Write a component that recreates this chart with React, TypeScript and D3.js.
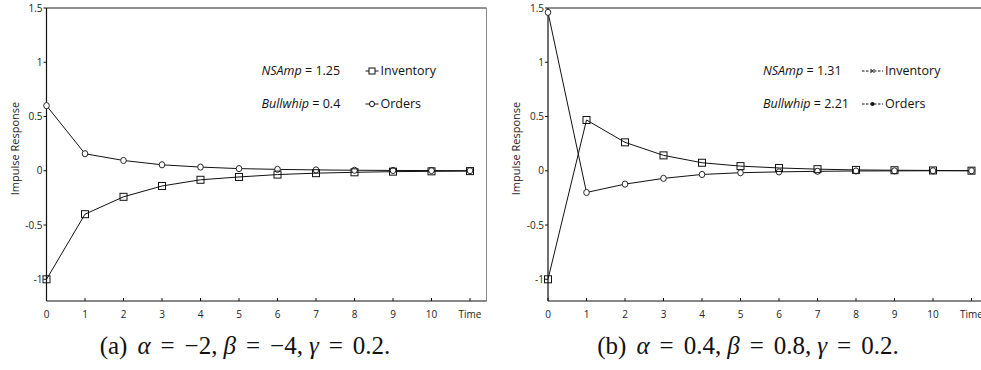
import React from "react";
import * as d3 from "d3";

const steps = [0, 1, 2, 3, 4, 5, 6, 7, 8, 9, 10, 11];
const xTickLabels = ["0", "1", "2", "3", "4", "5", "6", "7", "8", "9", "10", "Time"];
const yTicks = [-1, -0.5, 0, 0.5, 1, 1.5];

// panel (a)
const invA = [-1, -0.4, -0.24, -0.14, -0.083, -0.057, -0.035, -0.022, -0.014, -0.008, -0.005, -0.003];
const ordA = [0.6, 0.157, 0.095, 0.055, 0.034, 0.02, 0.013, 0.008, 0.005, 0.003, 0.002, 0.001];
// panel (b)
const invB = [-1, 0.468, 0.262, 0.142, 0.074, 0.043, 0.026, 0.015, 0.008, 0.005, 0.003, 0.001];
const ordB = [1.46, -0.2, -0.123, -0.07, -0.034, -0.018, -0.01, -0.005, -0.002, -0.001, 0, 0];

// caption pieces: [text, italic, gap before]
const captionA: [string, boolean, number][] = [
  ["(a)", false, 0], ["α", true, 10], ["=", false, 10], ["−2,", false, 10],
  ["β", true, 6], ["=", false, 10], ["−4,", false, 10], ["γ", true, 6], ["=", false, 10], ["0.2.", false, 10],
];
const captionB: [string, boolean, number][] = [
  ["(b)", false, 0], ["α", true, 10], ["=", false, 10], ["0.4,", false, 10],
  ["β", true, 6], ["=", false, 10], ["0.8,", false, 10], ["γ", true, 6], ["=", false, 10], ["0.2.", false, 10],
];

const tickFont = "'Open Sans', 'Liberation Sans', sans-serif";

type PanelProps = {
  left: number;
  right: number;
  inv: number[];
  ord: number[];
  nsamp: string;
  bullwhip: string;
  dashedLegend: boolean;
  caption: [string, boolean, number][];
  captionX: number;
  frameRight: boolean;
};

function Panel(p: PanelProps) {
  const top = 8;
  const bottom = 301;
  const x = d3.scaleLinear().domain([0, 11]).range([p.left, p.left + 423.5]);
  const y = d3.scaleLinear().domain([-1.2, 1.5]).range([bottom, top]);
  const line = d3
    .line<number>()
    .x((_, i) => x(steps[i]))
    .y((d) => y(d));

  const lx = p.left + 215;
  const mx = p.left + (p.dashedLegend ? 314 : 319);
  const lineLen = p.dashedLegend ? 21 : 13;

  return (
    <g>
      {/* frame */}
      <line x1={p.left} x2={p.right} y1={top} y2={top} stroke="#222" strokeWidth={1} />
      {p.frameRight && (
        <line x1={p.right} x2={p.right} y1={top} y2={bottom} stroke="#888" strokeWidth={1} />
      )}
      <line x1={p.left} x2={p.left} y1={top} y2={bottom} stroke="#111" strokeWidth={1.2} />
      <line x1={p.left} x2={p.right} y1={bottom} y2={bottom} stroke="#111" strokeWidth={1.2} />

      {/* y ticks */}
      {yTicks.map((t) => (
        <g key={t}>
          <line x1={p.left - 3} x2={p.left} y1={y(t)} y2={y(t)} stroke="#111" />
          <text
            x={p.left - 4}
            y={y(t)}
            dy="0.35em"
            textAnchor="end"
            fontFamily={tickFont}
            fontSize={10}
            fill="#222"
          >
            {t}
          </text>
        </g>
      ))}
      {/* x ticks */}
      {steps.map((s, i) => (
        <g key={s}>
          <line x1={x(s)} x2={x(s)} y1={bottom - 3} y2={bottom} stroke="#111" />
          <text
            x={x(s)}
            y={bottom + 17}
            textAnchor="middle"
            fontFamily={tickFont}
            fontSize={10}
            fill="#222"
          >
            {xTickLabels[i]}
          </text>
        </g>
      ))}
      <text
        transform={`translate(${p.left - 28},${(top + bottom) / 2 - 6}) rotate(-90)`}
        textAnchor="middle"
        fontFamily={tickFont}
        fontSize={11}
        fill="#222"
      >
        Impulse Response
      </text>

      {/* series */}
      <path d={line(p.ord) ?? ""} fill="none" stroke="#111" strokeWidth={1} />
      <path d={line(p.inv) ?? ""} fill="none" stroke="#111" strokeWidth={1} />
      {p.ord.map((v, i) => (
        <ellipse key={"o" + i} cx={x(steps[i])} cy={y(v)} rx={2.8} ry={3.1} fill="white" stroke="#111" strokeWidth={0.9} />
      ))}
      {p.inv.map((v, i) => (
        <rect key={"i" + i} x={x(steps[i]) - 3.5} y={y(v) - 3.5} width={7} height={7} fill="none" stroke="#111" strokeWidth={1} />
      ))}

      {/* legend */}
      <text x={lx} y={75} fontFamily={tickFont} fontSize={12.5} fill="#111">
        <tspan fontStyle="italic">NSAmp</tspan> = {p.nsamp}
      </text>
      <text x={lx} y={108} fontFamily={tickFont} fontSize={12.5} fill="#111">
        <tspan fontStyle="italic">Bullwhip</tspan> = {p.bullwhip}
      </text>
      <line
        x1={mx}
        x2={mx + lineLen}
        y1={71}
        y2={71}
        stroke="#111"
        strokeDasharray={p.dashedLegend ? "2.5,1.5" : undefined}
      />
      <line
        x1={mx}
        x2={mx + lineLen}
        y1={104}
        y2={104}
        stroke="#111"
        strokeDasharray={p.dashedLegend ? "2.5,1.5" : undefined}
      />
      {p.dashedLegend ? (
        <>
          <path d={`M${mx + lineLen / 2 - 2},69 l4,4 M${mx + lineLen / 2 - 2},73 l4,-4`} stroke="#111" />
          <circle cx={mx + lineLen / 2} cy={104} r={2} fill="#111" />
        </>
      ) : (
        <>
          <rect x={mx + lineLen / 2 - 3} y={68} width={6} height={6} fill="white" stroke="#111" />
          <ellipse cx={mx + lineLen / 2} cy={104} rx={2.5} ry={2.8} fill="white" stroke="#111" />
        </>
      )}
      <text x={mx + lineLen + 2} y={75} fontFamily={tickFont} fontSize={12.5} fill="#111">
        Inventory
      </text>
      <text x={mx + lineLen + 2} y={108} fontFamily={tickFont} fontSize={12.5} fill="#111">
        Orders
      </text>

      {/* caption */}
      <text
        x={p.captionX}
        y={354}
        textAnchor="middle"
        fontFamily="'Liberation Serif', 'DejaVu Serif', serif"
        fontSize={25}
        fill="#111"
      >
        {p.caption.map(([c, it, gap], i) => (
          <tspan key={i} dx={gap} fontStyle={it ? "italic" : "normal"}>
            {c}
          </tspan>
        ))}
      </text>
    </g>
  );
}

export default function App() {
  return (
    <svg
      width={981}
      height={370}
      viewBox="0 0 981 370"
      style={{ position: "absolute", left: 0, top: 0, background: "white" }}
    >
      <rect width={981} height={370} fill="white" />
      <Panel
        left={46.5}
        right={486.5}
        inv={invA}
        ord={ordA}
        nsamp="1.25"
        bullwhip="0.4"
        dashedLegend={false}
        caption={captionA}
        captionX={245}
        frameRight={true}
      />
      <Panel
        left={548}
        right={981}
        inv={invB}
        ord={ordB}
        nsamp="1.31"
        bullwhip="2.21"
        dashedLegend={true}
        caption={captionB}
        captionX={748}
        frameRight={false}
      />
    </svg>
  );
}
